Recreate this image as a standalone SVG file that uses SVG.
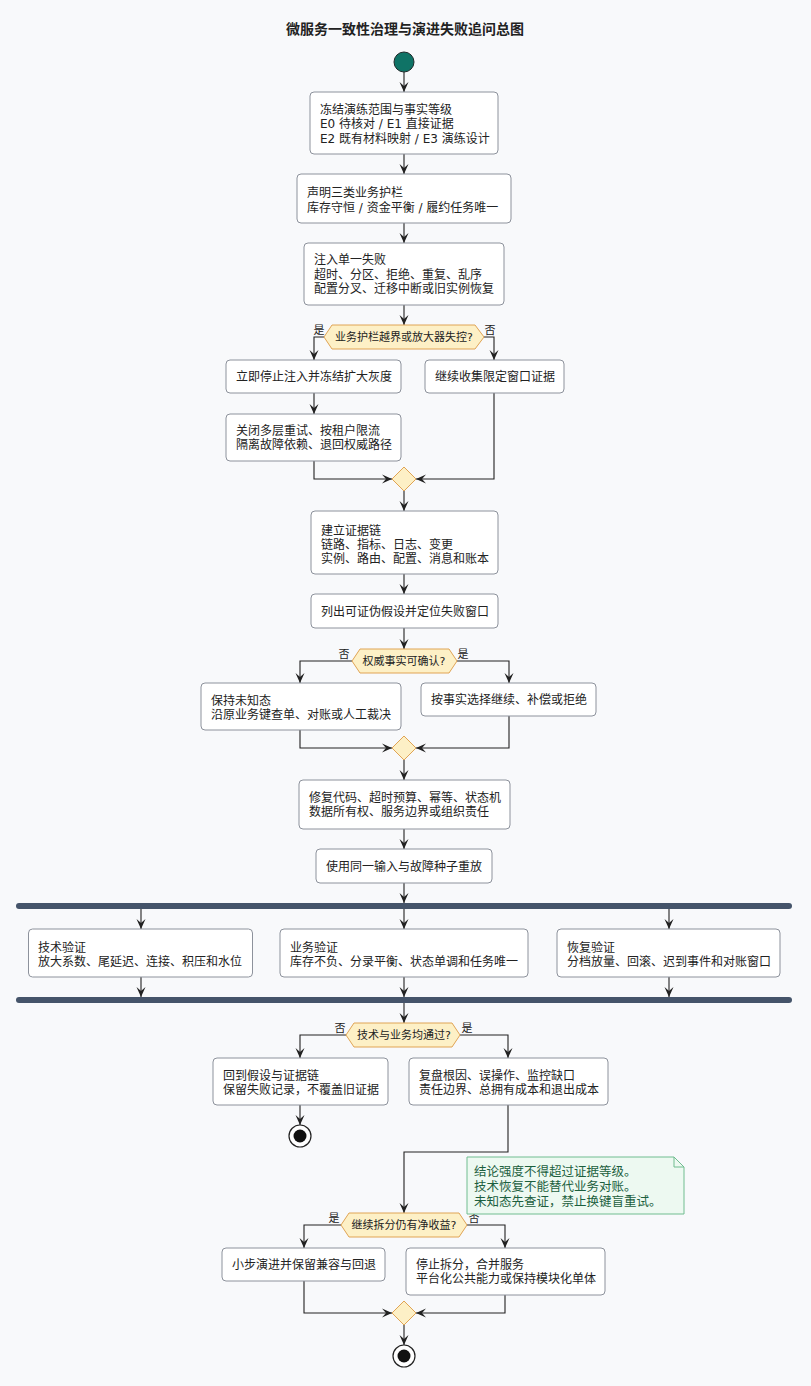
<svg xmlns="http://www.w3.org/2000/svg" width="811" height="1386" viewBox="0 0 811 1386">
<defs>
<marker id="ah" markerUnits="userSpaceOnUse" markerWidth="10" markerHeight="10" viewBox="0 0 10 9" refX="10" refY="4.5" orient="auto">
<path d="M0,0 L10,4.5 L0,9 L4,4.5 Z" fill="#222"/>
</marker>
</defs>
<style>
text{font-family:"DejaVu Sans","Noto Sans CJK SC",sans-serif;fill:#222;}
.t{font-size:12px;}
.d{font-size:11px;text-anchor:middle;}
.l{font-size:11px;text-anchor:middle;}
.title{font-size:14px;font-weight:bold;text-anchor:middle;}
.box{fill:#ffffff;stroke:#8d929c;stroke-width:1;}
.dec{fill:#fdf0c6;stroke:#e0a454;stroke-width:1;}
.bar{fill:#45546a;}
.c{fill:none;stroke:#222;stroke-width:1.1;marker-end:url(#ah);}
.note{fill:#edf9f1;stroke:#70bd90;stroke-width:1;}
.nt{font-size:12.5px;fill:#1c5f3e;}
</style>
<rect x="0" y="0" width="811" height="1386" fill="#f8f9fb"/>
<text class="title" x="405" y="34">微服务一致性治理与演进失败追问总图</text>

<g id="connectors">
<path class="c" d="M404,72 L404,92"/>
<path class="c" d="M404,154 L404,174"/>
<path class="c" d="M404,223 L404,243"/>
<path class="c" d="M404,305 L404,325"/>
<path class="c" d="M324,337 L314,337 L314,360"/>
<path class="c" d="M484,337 L494,337 L494,360"/>
<path class="c" d="M314,393 L314,414"/>
<path class="c" d="M314,461 L314,479 L392,479"/>
<path class="c" d="M494,393 L494,479 L416,479"/>
<path class="c" d="M404,491 L404,511"/>
<path class="c" d="M404,574 L404,594"/>
<path class="c" d="M404,628 L404,649"/>
<path class="c" d="M352,661 L300,661 L300,683"/>
<path class="c" d="M457,661 L509,661 L509,683"/>
<path class="c" d="M300,730 L300,748 L392,748"/>
<path class="c" d="M509,716 L509,748 L416,748"/>
<path class="c" d="M404,760 L404,780"/>
<path class="c" d="M404,829 L404,849"/>
<path class="c" d="M404,883 L404,903"/>
<path class="c" d="M141,909 L141,929"/>
<path class="c" d="M404,909 L404,929"/>
<path class="c" d="M669,909 L669,929"/>
<path class="c" d="M141,977 L141,997"/>
<path class="c" d="M404,977 L404,997"/>
<path class="c" d="M669,977 L669,997"/>
<path class="c" d="M404,1003 L404,1023"/>
<path class="c" d="M346,1035 L300,1035 L300,1058"/>
<path class="c" d="M460,1035 L508,1035 L508,1058"/>
<path class="c" d="M300,1105 L300,1125"/>
<path class="c" d="M508,1105 L508,1152 L404,1152 L404,1213"/>
<path class="c" d="M341,1225 L304,1225 L304,1248"/>
<path class="c" d="M467,1225 L505,1225 L505,1248"/>
<path class="c" d="M304,1281 L304,1313 L392,1313"/>
<path class="c" d="M505,1295 L505,1313 L416,1313"/>
<path class="c" d="M404,1325 L404,1345"/>
<text class="l" x="319" y="334">是</text>
<text class="l" x="490" y="334">否</text>
<text class="l" x="344" y="658">否</text>
<text class="l" x="463" y="658">是</text>
<text class="l" x="340" y="1032">否</text>
<text class="l" x="467" y="1032">是</text>
<text class="l" x="334" y="1222">是</text>
<text class="l" x="474" y="1222">否</text>
</g>

<g id="start"><circle cx="404" cy="62" r="10" fill="#0f7366" stroke="#1f2a2a" stroke-width="1"/></g>

<g id="freeze">
<rect class="box" x="310" y="92" width="188" height="62" rx="4"/>
<text class="t" x="320" y="113.5">冻结演练范围与事实等级</text>
<text class="t" x="320" y="128">E0 待核对 / E1 直接证据</text>
<text class="t" x="320" y="142.5">E2 既有材料映射 / E3 演练设计</text>
</g>

<g id="guardrails">
<rect class="box" x="297" y="174" width="214" height="49" rx="4"/>
<text class="t" x="307" y="197">声明三类业务护栏</text>
<text class="t" x="307" y="211.5">库存守恒 / 资金平衡 / 履约任务唯一</text>
</g>

<g id="inject">
<rect class="box" x="304" y="243" width="200" height="62" rx="4"/>
<text class="t" x="314" y="264">注入单一失败</text>
<text class="t" x="314" y="278.5">超时、分区、拒绝、重复、乱序</text>
<text class="t" x="314" y="292.5">配置分叉、迁移中断或旧实例恢复</text>
</g>

<g id="dec1">
<polygon class="dec" points="324,337 332,325 475,325 484,337 475,349 332,349"/>
<text class="d" x="404" y="341">业务护栏越界或放大器失控?</text>
</g>

<g id="stop">
<rect class="box" x="226" y="360" width="175" height="33" rx="4"/>
<text class="t" x="236" y="381">立即停止注入并冻结扩大灰度</text>
</g>

<g id="collect">
<rect class="box" x="425" y="360" width="139" height="33" rx="4"/>
<text class="t" x="435" y="381">继续收集限定窗口证据</text>
</g>

<g id="isolate">
<rect class="box" x="226" y="414" width="175" height="47" rx="4"/>
<text class="t" x="236" y="434.5">关闭多层重试、按租户限流</text>
<text class="t" x="236" y="449">隔离故障依赖、退回权威路径</text>
</g>

<g id="merge1"><polygon class="dec" points="404,467 416,479 404,491 392,479"/></g>

<g id="evidence">
<rect class="box" x="311" y="511" width="187" height="63" rx="4"/>
<text class="t" x="321" y="534.5">建立证据链</text>
<text class="t" x="321" y="548.5">链路、指标、日志、变更</text>
<text class="t" x="321" y="562.5">实例、路由、配置、消息和账本</text>
</g>

<g id="hypothesis">
<rect class="box" x="311" y="594" width="187" height="34" rx="4"/>
<text class="t" x="321" y="615.5">列出可证伪假设并定位失败窗口</text>
</g>

<g id="dec2">
<polygon class="dec" points="352,661 360,649 449,649 457,661 449,673 360,673"/>
<text class="d" x="404" y="665">权威事实可确认?</text>
</g>

<g id="unknown">
<rect class="box" x="201" y="683" width="200" height="47" rx="4"/>
<text class="t" x="211" y="704.5">保持未知态</text>
<text class="t" x="211" y="718.5">沿原业务键查单、对账或人工裁决</text>
</g>

<g id="choose">
<rect class="box" x="421" y="683" width="175" height="33" rx="4"/>
<text class="t" x="431" y="704">按事实选择继续、补偿或拒绝</text>
</g>

<g id="merge2"><polygon class="dec" points="404,736 416,748 404,760 392,748"/></g>

<g id="fix">
<rect class="box" x="299" y="780" width="211" height="49" rx="4"/>
<text class="t" x="309" y="801.5">修复代码、超时预算、幂等、状态机</text>
<text class="t" x="309" y="815.5">数据所有权、服务边界或组织责任</text>
</g>

<g id="replay">
<rect class="box" x="316" y="849" width="176" height="34" rx="4"/>
<text class="t" x="326" y="870.5">使用同一输入与故障种子重放</text>
</g>

<g id="fork"><rect class="bar" x="16" y="903" width="776" height="6" rx="3"/></g>

<g id="techval">
<rect class="box" x="28.5" y="929" width="224" height="48" rx="4"/>
<text class="t" x="38" y="951.5">技术验证</text>
<text class="t" x="38" y="965.5">放大系数、尾延迟、连接、积压和水位</text>
</g>

<g id="bizval">
<rect class="box" x="280" y="929" width="248" height="48" rx="4"/>
<text class="t" x="290" y="951.5">业务验证</text>
<text class="t" x="290" y="965.5">库存不负、分录平衡、状态单调和任务唯一</text>
</g>

<g id="recval">
<rect class="box" x="557" y="929" width="223" height="48" rx="4"/>
<text class="t" x="567" y="951.5">恢复验证</text>
<text class="t" x="567" y="965.5">分档放量、回滚、迟到事件和对账窗口</text>
</g>

<g id="join"><rect class="bar" x="16" y="997" width="776" height="6" rx="3"/></g>

<g id="dec3">
<polygon class="dec" points="346,1035 354,1023 452,1023 460,1035 452,1047 354,1047"/>
<text class="d" x="404" y="1039">技术与业务均通过?</text>
</g>

<g id="back">
<rect class="box" x="213" y="1058" width="175" height="47" rx="4"/>
<text class="t" x="223" y="1079.5">回到假设与证据链</text>
<text class="t" x="223" y="1093.5">保留失败记录，不覆盖旧证据</text>
</g>

<g id="review">
<rect class="box" x="409" y="1058" width="199" height="47" rx="4"/>
<text class="t" x="419" y="1079.5">复盘根因、误操作、监控缺口</text>
<text class="t" x="419" y="1093.5">责任边界、总拥有成本和退出成本</text>
</g>

<g id="end1">
<circle cx="300" cy="1136" r="11" fill="#ffffff" stroke="#222" stroke-width="1.2"/>
<circle cx="300" cy="1136" r="6.5" fill="#111"/>
</g>

<g id="note">
<path class="note" d="M467,1157 L674,1157 L684,1167 L684,1214 L467,1214 Z"/>
<path d="M674,1157 L674,1167 L684,1167" fill="none" stroke="#70bd90" stroke-width="1"/>
<text class="nt" x="474" y="1175.5">结论强度不得超过证据等级。</text>
<text class="nt" x="474" y="1190.5">技术恢复不能替代业务对账。</text>
<text class="nt" x="474" y="1205.5">未知态先查证，禁止换键盲重试。</text>
</g>

<g id="dec4">
<polygon class="dec" points="341,1225 349,1213 459,1213 467,1225 459,1237 349,1237"/>
<text class="d" x="404" y="1229">继续拆分仍有净收益?</text>
</g>

<g id="evolve">
<rect class="box" x="222" y="1248" width="163" height="33" rx="4"/>
<text class="t" x="232" y="1269">小步演进并保留兼容与回退</text>
</g>

<g id="stopsplit">
<rect class="box" x="406" y="1248" width="199" height="47" rx="4"/>
<text class="t" x="416" y="1268.5">停止拆分，合并服务</text>
<text class="t" x="416" y="1282.5">平台化公共能力或保持模块化单体</text>
</g>

<g id="merge3"><polygon class="dec" points="404,1301 416,1313 404,1325 392,1313"/></g>

<g id="end2">
<circle cx="404" cy="1356" r="11" fill="#ffffff" stroke="#222" stroke-width="1.2"/>
<circle cx="404" cy="1356" r="6.5" fill="#111"/>
</g>
</svg>
